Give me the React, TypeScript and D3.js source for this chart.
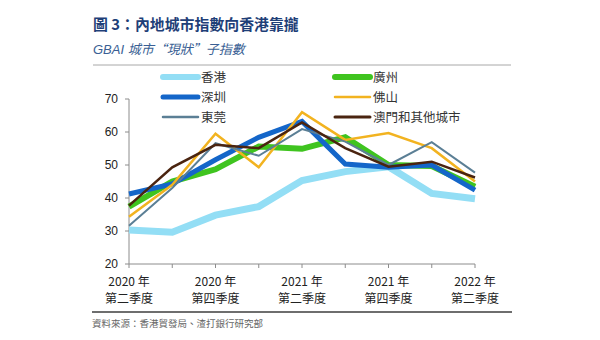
import React from "react";
import * as d3 from "d3";

const quarters = ["2020Q2", "2020Q3", "2020Q4", "2021Q1", "2021Q2", "2021Q3", "2021Q4", "2022Q1", "2022Q2"];
const tickLabels1 = ["2020 年", "", "2020 年", "", "2021 年", "", "2021 年", "", "2022 年"];
const tickLabels2 = ["第二季度", "", "第四季度", "", "第二季度", "", "第四季度", "", "第二季度"];
const yTicks = [20, 30, 40, 50, 60, 70];

const hongKong = [30.3, 29.6, 34.8, 37.4, 45.3, 48.0, 49.5, 41.4, 39.8];
const guangzhou = [37.4, 45.0, 48.7, 55.6, 54.9, 58.4, 50.0, 49.7, 43.4];
const shenzhen = [41.2, 44.3, 51.6, 58.4, 63.2, 50.3, 49.3, 50.0, 42.4];
const foshan = [34.3, 44.0, 59.5, 49.3, 66.0, 57.6, 59.7, 55.1, 45.0];
const dongguan = [31.6, 43.0, 56.6, 52.8, 60.9, 57.1, 50.0, 56.9, 47.7];
const macauOthers = [37.7, 49.3, 56.1, 55.1, 62.9, 55.1, 49.5, 51.0, 46.2];

const seriesNames = ["香港", "廣州", "深圳", "佛山", "東莞", "澳門和其他城市"];
const seriesData = [hongKong, guangzhou, shenzhen, foshan, dongguan, macauOthers];
const seriesColors = ["#93def5", "#3fc41f", "#1466c9", "#f2b320", "#5b7f95", "#4a2410"];
const seriesWidths = [7, 6, 5, 2.5, 2, 2.5];
const legendWidths = [6, 6, 5, 2.5, 2.5, 3];

const CJK = "'Noto Sans CJK TC', 'Liberation Sans', Arial, sans-serif";
const LAT = "'Liberation Sans', Arial, 'Noto Sans CJK TC', sans-serif";

export default function App() {
  const W = 600, H = 340;
  const x = d3.scalePoint<string>().domain(quarters).range([129, 475]);
  const y = d3.scaleLinear().domain([20, 70]).range([264, 99]);
  const line = d3
    .line<number>()
    .x((_, i) => x(quarters[i]) as number)
    .y((d) => y(d));

  const legendPos = [
    [163, 77],
    [335, 77],
    [163, 97],
    [335, 97],
    [163, 117],
    [335, 117],
  ];

  return (
    <svg width={W} height={H} style={{ position: "absolute", left: 0, top: 0, background: "#fff" }}>
      <rect width={W} height={H} fill="#fff" />
      <text x={93} y={30} fontFamily={CJK} fontSize={14.9} fontWeight="bold" fill="#1f3f78">
        圖 3：內地城市指數向香港靠攏
      </text>
      <text x={93} y={54} fontFamily={CJK} fontSize={13} fontStyle="italic" fill="#3a5f94">
        <tspan fontFamily={LAT}>GBAI </tspan>城市“現狀”子指數
      </text>
      <line x1={93} x2={511} y1={65} y2={65} stroke="#a8a8a8" strokeWidth={1} />

      {/* y axis */}
      <line x1={129} x2={129} y1={y(70)} y2={y(20)} stroke="#8c8c8c" strokeWidth={1} />
      {yTicks.map((t) => (
        <g key={t}>
          <line x1={125} x2={129} y1={y(t)} y2={y(t)} stroke="#8c8c8c" />
          <text x={118} y={y(t)} dy="0.35em" textAnchor="end" fontFamily={LAT} fontSize={12} fill="#222">
            {t}
          </text>
        </g>
      ))}
      {/* x axis */}
      <line x1={129} x2={475} y1={264} y2={264} stroke="#8c8c8c" strokeWidth={1} />
      {quarters.map((q, i) => (
        <g key={q}>
          <line x1={x(q)} x2={x(q)} y1={264} y2={268} stroke="#8c8c8c" />
          {tickLabels1[i] && (
            <text x={x(q)} y={286} textAnchor="middle" fontFamily={CJK} fontSize={12} fill="#222">
              {tickLabels1[i]}
            </text>
          )}
          {tickLabels2[i] && (
            <text x={x(q)} y={303} textAnchor="middle" fontFamily={CJK} fontSize={12} fill="#222">
              {tickLabels2[i]}
            </text>
          )}
        </g>
      ))}

      {seriesData.map((d, i) => (
        <path
          key={seriesNames[i]}
          d={line(d) || ""}
          fill="none"
          stroke={seriesColors[i]}
          strokeWidth={seriesWidths[i]}
          strokeLinejoin="miter"
        />
      ))}

      {seriesNames.map((n, i) => (
        <g key={n}>
          <line
            x1={legendPos[i][0]}
            x2={legendPos[i][0] + 35}
            y1={legendPos[i][1]}
            y2={legendPos[i][1]}
            stroke={seriesColors[i]}
            strokeWidth={legendWidths[i]}
            strokeLinecap="round"
          />
          <text x={legendPos[i][0] + 38} y={legendPos[i][1]} dy="0.36em" fontFamily={CJK} fontSize={12.5} fill="#333">
            {n}
          </text>
        </g>
      ))}

      <line x1={92} x2={512} y1={312} y2={312} stroke="#6e6e6e" strokeWidth={2} />
      <text x={92} y={327} fontFamily={CJK} fontSize={9.5} fill="#666">
        資料來源：香港貿發局、渣打銀行研究部
      </text>
    </svg>
  );
}
